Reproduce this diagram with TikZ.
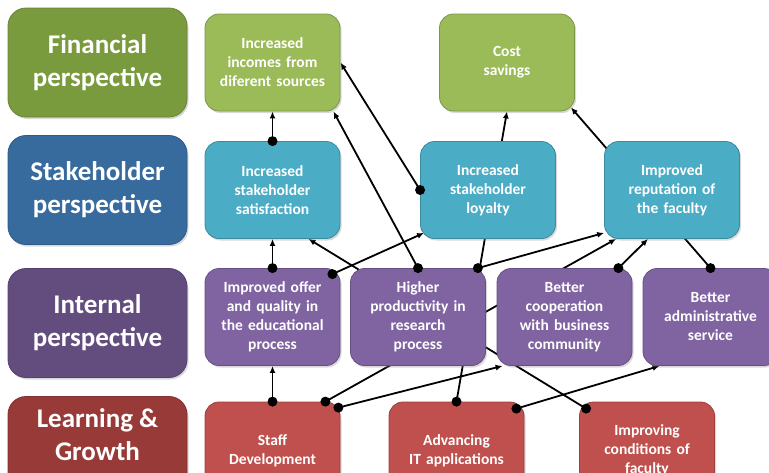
\documentclass[tikz,border=0pt]{standalone}
\usepackage{fontspec}
\setmainfont{Carlito}
\usetikzlibrary{arrows.meta,shadows,backgrounds}
\definecolor{finDark}{HTML}{7A9A3E}
\definecolor{stkDark}{HTML}{376A9D}
\definecolor{intDark}{HTML}{634C7E}
\definecolor{lrnDark}{HTML}{983A37}
\definecolor{finLight}{HTML}{9BBB59}
\definecolor{stkLight}{HTML}{4BACC6}
\definecolor{intLight}{HTML}{8064A2}
\definecolor{lrnLight}{HTML}{C0504D}
\tikzset{
	persp/.style={
			rounded corners=18pt, minimum width=179pt, minimum height=109pt,
			draw=#1!85!black, fill=#1, line width=0.8pt, text=white, align=center,
			font=\bfseries\fontsize{27}{33}\selectfont,
			drop shadow={opacity=0.3, shadow xshift=1.5pt, shadow yshift=-2pt}
		},
	goal/.style={
			rounded corners=14pt, minimum width=135pt, minimum height=97pt,
			text width=127pt, draw=#1!80!black, fill=#1, line width=0.8pt,
			text=white, align=center, font=\bfseries\fontsize{15.5}{19}\selectfont,
			drop shadow={opacity=0.3, shadow xshift=1.5pt, shadow yshift=-2pt}
		},
	link/.style={line width=1.8pt, -{Latex[length=7pt,width=6pt]}}
}

\begin{document}
\begin{tikzpicture}[x=1pt, y=-1pt]
			\path[use as bounding box, clip] (0,0) rectangle (769,472);
			% Perspectives
			\node[persp=finDark] (financial) at (97.5,62.5) {Financial\\perspective};
			\node[persp=stkDark] (stakeholder) at (97.5,190) {Stakeholder\\perspective};
			\node[persp=intDark] (internal) at (97.5,323) {Internal\\perspective};
			\node[persp=lrnDark] (learning) at (97.5,451) {Learning \&\\Growth\\\mbox{}};
			% Financial goals
			\node[goal=finLight] (incomes) at (272.5,62.5) {Increased\\incomes from\\diferent sources};
			\node[goal=finLight] (cost) at (507,62.5) {Cost\\savings};
			% Stakeholder goals
			\node[goal=stkLight] (satisf) at (272.5,190) {Increased\\stakeholder\\satisfaction};
			\node[goal=stkLight] (loyalty) at (488,190) {Increased\\stakeholder\\loyalty};
			\node[goal=stkLight] (reputation) at (672,190) {Improved\\reputation of\\the faculty};
			% Internal goals
			\node[goal=intLight] (offer) at (272.5,317) {Improved offer\\and quality in\\the educational\\process};
			\node[goal=intLight] (research) at (418,317) {Higher\\productivity in\\research\\process};
			\node[goal=intLight] (coop) at (564.5,317) {Better\\cooperation\\with business\\community};
			\node[goal=intLight] (admin) at (710.5,317) {Better\\administrative\\service};
			% Learning goals
			\node[goal=lrnLight] (staff) at (272.5,450.5) {Staff\\Development};
			\node[goal=lrnLight] (IT) at (456.5,450.5) {Advancing\\IT applications};
			\node[goal=lrnLight] (improving) at (647,450.5) {Improving\\conditions of\\faculty};
			% Start points off the anchors
			\coordinate (offer-tr) at ([xshift=-8pt,yshift=-6pt]offer.north east);
			\coordinate (research-tr) at ([xshift=-8pt]research.north east);
			\coordinate (coop-tr) at ([xshift=-14pt]coop.north east);
			\coordinate (staff-a) at ([xshift=-15pt]staff.north east);
			\coordinate (staff-b) at ([xshift=-2pt,yshift=-6pt]staff.north east);
			\coordinate (IT-tr) at ([xshift=-8pt,yshift=-7pt]IT.north east);
			\coordinate (improving-tl) at ([xshift=7pt,yshift=-7pt]improving.north west);
			% Links, behind the boxes
			\begin{pgfonlayer}{background}
				\draw[link] (staff.north) -- (offer.south);
				\draw[link] (offer.north) -- (satisf.south);
				\draw[link] (satisf.north) -- (incomes.south);
				\draw[link] (loyalty.west) -- (incomes.east);
				\draw[link] (research.north) -- ([xshift=-7pt]incomes.south east);
				\draw[link] (offer-tr) -- ([xshift=4pt,yshift=6pt]loyalty.south west);
				\draw[link] (improving-tl) -- ([xshift=36pt]satisf.south);
				\draw[link] (research-tr) -- ([yshift=6pt]reputation.south west);
				\draw[link] (IT.north) -- (cost.south);
				\draw[link] (staff-a) -- ([xshift=12pt]reputation.south west);
				\draw[link] (staff-b) -- ([xshift=6pt]coop.south west);
				\draw[link] (IT-tr) -- ([xshift=17pt]admin.south west);
				\draw[link] (coop-tr) -- ([xshift=-24pt]reputation.south);
				\draw[link] (admin.north) -- ([xshift=-4pt,yshift=4pt]cost.south east);
			\end{pgfonlayer}
			% Dots at the start of each link
			\foreach \p in {staff.north, offer.north, satisf.north, loyalty.west, research.north,
					offer-tr, improving-tl, research-tr, IT.north, staff-a, staff-b, IT-tr, coop-tr, admin.north}
			\fill (\p) circle (5pt);
		\end{tikzpicture}
\end{document}
